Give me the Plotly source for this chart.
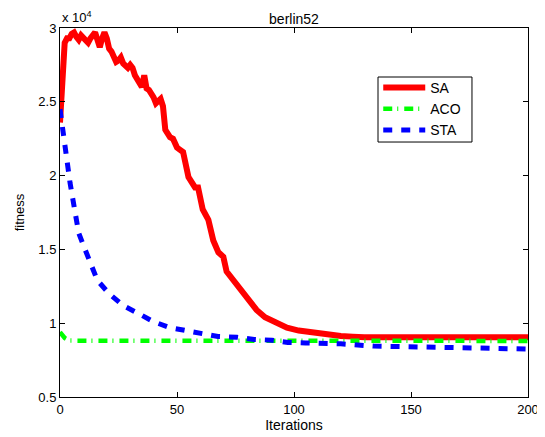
import plotly.graph_objects as go

# fitness values in units of 1e4
sa_iter = [0, 1, 2, 3, 4, 5, 6, 7, 8, 9, 10, 11, 12, 13, 14, 15, 16, 17, 18, 19, 20,
           21, 22, 23, 24, 25, 26, 27, 28, 29, 30, 31, 32, 33, 34, 35, 36, 37, 38, 39,
           40, 41, 42, 43, 44, 45, 47, 48.3, 50, 52.6, 54.9, 56.3, 57.7, 59, 61, 63.4,
           65.5, 67.7, 69.8, 71.2, 74, 77, 80.5, 84, 87.6, 92, 97, 102, 106, 110, 115,
           120, 125, 130, 150, 200]
sa_fit = [2.36, 2.75, 2.90, 2.93, 2.93, 2.96, 2.97, 2.94, 2.92, 2.95, 2.93, 2.92, 2.90,
          2.93, 2.96, 2.97, 2.92, 2.87, 2.93, 2.97, 2.93, 2.86, 2.84, 2.80, 2.77, 2.78,
          2.80, 2.76, 2.74, 2.73, 2.75, 2.73, 2.68, 2.65, 2.63, 2.60, 2.68, 2.59, 2.58,
          2.56, 2.53, 2.49, 2.50, 2.52, 2.47, 2.31, 2.26, 2.25, 2.19, 2.16, 1.99, 1.96,
          1.92, 1.92, 1.77, 1.70, 1.56, 1.48, 1.45, 1.35, 1.29, 1.23, 1.16, 1.09, 1.04,
          1.01, 0.97, 0.95, 0.94, 0.932, 0.922, 0.914, 0.909, 0.905, 0.905, 0.905]

aco_iter = [0, 2, 4, 200]
aco_fit = [0.94, 0.90, 0.882, 0.88]

sta_iter = [0, 1.3, 2, 3, 4.3, 5.6, 6.8, 8, 10.7, 12.8, 16, 21, 27, 33, 40, 47, 54, 61,
            67.5, 75.6, 83, 90.6, 97.4, 105, 120, 134, 148, 162, 177, 200]
sta_fit = [2.45, 2.29, 2.17, 2.06, 1.95, 1.83, 1.72, 1.61, 1.50, 1.41, 1.29, 1.20, 1.12,
           1.07, 1.01, 0.97, 0.95, 0.93, 0.91, 0.905, 0.89, 0.885, 0.87, 0.866, 0.86,
           0.845, 0.84, 0.84, 0.83, 0.825]

y_ticks = [0.5, 1, 1.5, 2, 2.5, 3]
y_tick_text = ["0.5", "1", "1.5", "2", "2.5", "3"]
x_ticks = [0, 50, 100, 150, 200]

font_family = "Liberation Sans, Arial, sans-serif"

fig = go.Figure()
fig.add_trace(go.Scatter(x=sa_iter, y=sa_fit, mode="lines", name="SA",
                         line=dict(color="#FF0000", width=6)))
fig.add_trace(go.Scatter(x=aco_iter, y=aco_fit, mode="lines", name="ACO",
                         line=dict(color="#00FF00", width=4.5, dash="9px,5px,1px,6px")))
fig.add_trace(go.Scatter(x=sta_iter, y=sta_fit, mode="lines", name="STA",
                         line=dict(color="#0000FF", width=5, dash="9px,9px")))

axis_common = dict(showgrid=False, zeroline=False, showline=True, linecolor="black",
                   linewidth=1, ticks="inside", ticklen=5, tickcolor="black",
                   mirror="ticks", automargin=False,
                   tickfont=dict(size=13, color="black", family=font_family))

# page body has an 8px default margin: figure is shrunk and offset to compensate
fig.update_layout(
    width=537, height=429,
    paper_bgcolor="white", plot_bgcolor="white",
    margin=dict(l=52, r=17, t=20, b=40, pad=0),
    font=dict(family=font_family, color="black"),
    title=dict(text="berlin52", x=0.5, xref="paper", xanchor="center",
               y=1, yref="paper", yanchor="bottom", pad=dict(b=4),
               font=dict(size=14, color="black", family=font_family)),
    xaxis=dict(range=[0, 200], tickvals=x_ticks,
               title=dict(text="Iterations", standoff=2, font=dict(size=14)),
               **axis_common),
    yaxis=dict(range=[0.5, 3], tickvals=y_ticks, ticktext=y_tick_text,
               title=dict(text="fitness", standoff=10, font=dict(size=13)),
               **axis_common),
    legend=dict(x=0.68, y=0.881, xanchor="left", yanchor="top",
                borderwidth=0, bgcolor="rgba(0,0,0,0)",
                font=dict(size=14, color="black", family=font_family),
                tracegroupgap=0, itemwidth=42),
    showlegend=True,
    shapes=[dict(type="rect", xref="paper", yref="paper",
                 x0=0.6795, x1=0.8803, y0=0.691, y1=0.8672,
                 line=dict(color="black", width=1), fillcolor="white", layer="above")],
    annotations=[dict(text="x 10<sup>4</sup>", x=0, y=1, xref="paper", yref="paper",
                      xanchor="left", yanchor="bottom", yshift=1, showarrow=False,
                      font=dict(size=13, color="black", family=font_family))],
)

fig.write_html("out.html")
